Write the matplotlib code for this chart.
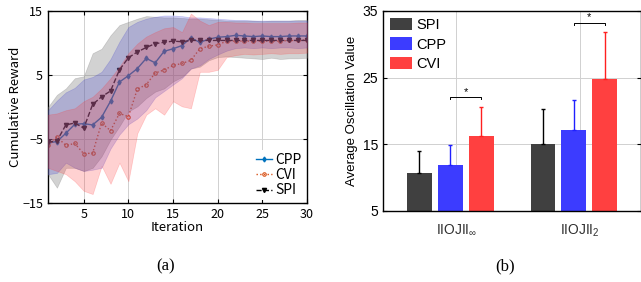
import numpy as np
import matplotlib
matplotlib.use("Agg")
import matplotlib.pyplot as plt

# ---------------- data: panel (a) ----------------
iterations = list(range(1, 31))
cpp_mean = [-5.6, -5.4, -4.1, -2.7, -2.6, -2.8, -1.6, 0.9, 3.9, 4.9, 6.0, 7.6, 6.9, 8.7, 9.1,
            9.6, 10.8, 10.1, 10.6, 10.9, 11.0, 11.2, 11.1, 11.0, 11.1, 11.0, 11.0, 11.1, 11.1, 11.1]
cvi_mean = [-6.0, -4.7, -6.0, -5.7, -7.3, -7.2, -2.5, -3.7, -1.0, -1.5, 2.8, 3.5, 5.3, 5.8, 6.5,
            6.8, 7.3, 9.1, 9.5, 9.7, 10.3, 10.3, 10.3, 10.3, 10.3, 10.3, 10.3, 10.4, 10.4, 10.5]
spi_mean = [-5.5, -5.3, -2.8, -2.5, -3.3, 0.4, 1.6, 2.5, 5.8, 7.7, 8.6, 9.3, 9.9, 10.1, 10.3,
            10.2, 10.4, 10.4, 10.4, 10.4, 10.4, 10.4, 10.4, 10.4, 10.4, 10.4, 10.4, 10.4, 10.4, 10.4]

spi_upper = [0.0, 1.9, 2.9, 4.5, 4.8, 8.4, 9.1, 11.2, 12.8, 13.3, 13.8, 14.2, 14.1, 14.0, 14.0,
             13.9, 13.8, 13.8, 13.7, 13.6, 13.5, 13.5, 13.5, 13.5, 13.4, 13.5, 13.5, 13.5, 13.6, 13.6]
spi_lower = [-10.5, -12.6, -9.5, -9.5, -10.0, -9.5, -7.7, -5.1, -3.0, -0.7, 0.1, 1.4, 2.4, 2.9, 4.0,
             4.7, 6.0, 6.3, 7.3, 7.8, 7.9, 7.8, 7.7, 7.6, 7.5, 7.7, 7.5, 7.6, 7.6, 7.7]
cpp_upper = [-0.5, 1.0, 2.3, 3.0, 4.3, 4.7, 5.5, 7.5, 10.2, 12.5, 13.3, 13.8, 14.1, 14.3, 14.3,
             14.2, 14.0, 14.0, 13.9, 13.8, 13.7, 13.6, 13.6, 13.5, 13.5, 13.5, 13.5, 13.5, 13.5, 13.5]
cpp_lower = [-10.5, -10.3, -8.7, -9.5, -10.0, -9.8, -9.5, -6.5, -4.3, -2.7, -1.8, -0.5, 1.5, 2.5, 3.5,
             4.5, 6.0, 6.5, 7.5, 8.2, 8.8, 9.2, 9.3, 9.2, 9.3, 9.2, 9.3, 9.3, 9.2, 9.3]
cvi_upper = [-1.2, -1.0, -0.5, -0.2, 0.9, 1.6, 2.9, 4.5, 6.3, 8.4, 9.9, 11.0, 11.7, 12.3, 12.5,
             11.7, 14.6, 13.5, 12.8, 13.3, 13.3, 13.2, 13.2, 13.1, 13.1, 13.1, 13.1, 13.1, 13.2, 13.2]
cvi_lower = [-9.5, -10.0, -10.5, -11.6, -13.1, -13.6, -9.2, -12.0, -8.7, -11.6, -4.1, -1.2, -0.2, -1.2, 0.9,
             0.1, -0.2, 5.5, 5.5, 5.8, 7.8, 8.1, 8.3, 8.2, 8.3, 8.4, 8.3, 8.4, 8.4, 8.5]

# ---------------- data: panel (b) ----------------
bar_groups = [r"IIOJII$_{\infty}$", r"IIOJII$_{2}$"]
spi_bar = [10.75, 15.1]
cpp_bar = [11.85, 17.1]
cvi_bar = [16.2, 24.75]
spi_err = [3.25, 5.2]
cpp_err = [3.0, 4.6]
cvi_err = [4.4, 7.1]
sig_levels = [22.05, 33.25]

plt.rcParams["mathtext.fontset"] = "custom"
plt.rcParams["mathtext.rm"] = "Liberation Sans"
plt.rcParams["mathtext.it"] = "Liberation Sans"

fig = plt.figure(figsize=(6.41, 2.82), dpi=100)

# ================= panel (a) =================
lfont = ["Noto Sans CJK JP", "DejaVu Sans"]
ax1 = fig.add_axes([48 / 641, 1 - 203 / 282, 259 / 641, 192 / 282])
x = np.array(iterations)
ax1.plot(x, cpp_mean, color="#0072BD", lw=1.0, marker="d", ms=2.5, label="CPP", zorder=2)
ax1.plot(x, cvi_mean, color="#D95319", lw=1.0, ls=":", marker="o", ms=2.5, mfc="none", mew=0.8,
         label="CVI", zorder=2)
ax1.plot(x, spi_mean, color="black", lw=1.0, ls="--", marker="v", ms=3, label="SPI", zorder=2)
ax1.fill_between(x, spi_lower, spi_upper, color="#808080", alpha=0.35, lw=0.5, zorder=3)
ax1.fill_between(x, cpp_lower, cpp_upper, color="#3030d0", alpha=0.22, lw=0.5, zorder=3)
ax1.fill_between(x, cvi_lower, cvi_upper, color="#ff3030", alpha=0.22, lw=0.5, zorder=3)

ax1.set_xlim(1, 30)
ax1.set_ylim(-15, 15)
ax1.set_xticks([5, 10, 15, 20, 25, 30])
ax1.set_yticks([-15, -5, 5, 15])
ax1.grid(True, color="#d0d0d0", lw=0.7)
ax1.set_axisbelow(True)
ax1.tick_params(direction="in", length=3, top=True, right=True, labelsize=9, width=0.8)
for lab in ax1.get_xticklabels() + ax1.get_yticklabels():
    lab.set_family(lfont)
for s in ax1.spines.values():
    s.set_linewidth(1.0)
ax1.set_xlabel("Iteration", fontsize=9.5, family=lfont, labelpad=0)
ax1.set_ylabel("Cumulative Reward", fontsize=9.5, family=lfont, labelpad=0)
leg1 = ax1.legend(loc="lower right", frameon=True, facecolor="white", edgecolor="none",
                  framealpha=1, handlelength=1.2, handletextpad=0.2,
                  labelspacing=0.1, borderaxespad=0.2, borderpad=0.2, prop={"family": lfont, "size": 10})
leg1.set_zorder(5)

# ================= panel (b) =================
bfont = ["Liberation Sans", "DejaVu Sans"]
ax2 = fig.add_axes([383 / 641, 1 - 211 / 282, 257.5 / 641, 200 / 282])
centers = np.array([1, 2]) - 0.05
w = 0.2
off = 0.25
series = [("SPI", spi_bar, spi_err, "#404040", "black"),
          ("CPP", cpp_bar, cpp_err, "#3c3cff", "#2020ff"),
          ("CVI", cvi_bar, cvi_err, "#ff4040", "#ff2020")]
for k, (name, vals, errs, col, ecol) in enumerate(series):
    xs = centers + (k - 1) * off
    ax2.bar(xs, vals, width=w, color=col, label=name, zorder=2)
    ax2.errorbar(xs, vals, yerr=[np.zeros(len(vals)), errs], fmt="none", ecolor=ecol,
                 elinewidth=1.0, capsize=1.5, capthick=1.0, zorder=3)

# significance brackets between CPP and CVI
for g, lvl in enumerate(sig_levels):
    x0 = centers[g]
    x1 = centers[g] + off
    ax2.plot([x0, x0, x1, x1], [lvl - 0.3, lvl, lvl, lvl - 0.3], color="black", lw=0.7, zorder=4)
    ax2.text((x0 + x1) / 2, lvl + 0.1, "*", ha="center", va="bottom", fontsize=8, family=bfont)

ax2.set_xlim(0.405, 2.49)
ax2.set_ylim(5, 35)
ax2.set_xticks([1, 2])
ax2.set_xticklabels(bar_groups, family=bfont, fontsize=9.5, color="#303030")
ax2.set_yticks([5, 15, 25, 35])
ax2.grid(True, color="#d0d0d0", lw=0.7)
ax2.set_axisbelow(True)
ax2.tick_params(direction="in", length=3, top=False, right=True, labelsize=10, width=0.8)
ax2.tick_params(axis="x", length=0, pad=8)
for lab in ax2.get_yticklabels():
    lab.set_family(bfont)
for s in ax2.spines.values():
    s.set_linewidth(1.0)
ax2.set_ylabel("Average Oscillation Value", fontsize=9.5, family=bfont, labelpad=3)
ax2.legend(loc="upper left", frameon=True, facecolor="white", edgecolor="none", framealpha=1,
           prop={"family": bfont, "size": 10.5}, handlelength=1.5, handleheight=0.9,
           handletextpad=0.3, labelspacing=0.35, borderaxespad=0.3, borderpad=0.2)

fig.text(166 / 641, 1 - 266 / 282, "(a)", ha="center", va="center", fontsize=12, family="Liberation Serif")
fig.text(505 / 641, 1 - 266 / 282, "(b)", ha="center", va="center", fontsize=12, family="Liberation Serif")

fig.savefig("out.png", dpi=100)
